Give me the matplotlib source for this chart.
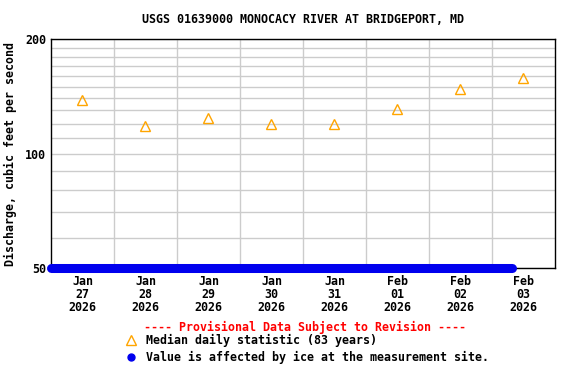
import numpy as np
import pandas as pd
import matplotlib
matplotlib.use("Agg")
import matplotlib.pyplot as plt
import matplotlib.dates as mdates
from matplotlib.ticker import FixedLocator, NullFormatter

# Data
median_days = pd.to_datetime(["2026-01-27 12:00", "2026-01-28 12:00", "2026-01-29 12:00",
                              "2026-01-30 12:00", "2026-01-31 12:00", "2026-02-01 12:00",
                              "2026-02-02 12:00", "2026-02-03 12:00"])
median_values = [138, 118, 124, 120, 120, 131, 148, 158]

# Ice-affected period (shown along the bottom of the plot)
ice_times = pd.to_datetime(["2026-01-27 00:00", "2026-02-03 07:30"])
ice_values = [50, 50]

tick_labels = ["Jan\n27\n2026", "Jan\n28\n2026", "Jan\n29\n2026", "Jan\n30\n2026",
               "Jan\n31\n2026", "Feb\n01\n2026", "Feb\n02\n2026", "Feb\n03\n2026"]
y_major = [50, 100, 200]
y_minor = [60, 70, 80, 90, 110, 120, 130, 140, 150, 160, 170, 180, 190]

mono = "DejaVu Sans Mono"
fs = 8.4

fig = plt.figure(figsize=(5.76, 3.84), dpi=100)
ax = fig.add_axes([0.0885, 0.302, 0.875, 0.596])

ax.set_yscale("log")
ax.set_ylim(50, 200)
ax.set_xlim(pd.Timestamp("2026-01-27"), pd.Timestamp("2026-02-04"))

# grid
ax.yaxis.set_major_locator(FixedLocator(y_major))
ax.yaxis.set_minor_locator(FixedLocator(y_minor))
ax.yaxis.set_minor_formatter(NullFormatter())
ax.set_yticklabels([str(v) for v in y_major])
midnights = pd.date_range("2026-01-28", "2026-02-03", freq="D")
for d in midnights:
    ax.axvline(d, color="#cccccc", lw=1, zorder=0)
ax.grid(True, axis="y", which="both", color="#cccccc", lw=1, zorder=0)

ax.set_xticks(median_days)
ax.set_xticklabels(tick_labels)
ax.tick_params(axis="both", which="both", length=0)
ax.tick_params(axis="x", pad=5)
for lab in ax.get_xticklabels() + ax.get_yticklabels():
    lab.set_fontfamily(mono)
    lab.set_fontweight("bold")
    lab.set_fontsize(fs)
for lab in ax.get_xticklabels():
    lab.set_linespacing(1.0)

for s in ax.spines.values():
    s.set_color("black")
    s.set_linewidth(1)

# series
ax.plot(ice_times, ice_values, color="#0000ee", lw=6.5, solid_capstyle="round",
        clip_on=False, zorder=3)
ax.plot(median_days, median_values, ls="none", marker="^", ms=7,
        mfc="none", mec="#ffa500", mew=1, zorder=4)

ax.set_title("USGS 01639000 MONOCACY RIVER AT BRIDGEPORT, MD", fontfamily=mono,
             fontweight="bold", fontsize=fs, pad=12)
ax.set_ylabel("Discharge, cubic feet per second", fontfamily=mono,
              fontweight="bold", fontsize=fs, labelpad=6)

# legend area
fig.text(305 / 576, 1 - 327 / 384, "---- Provisional Data Subject to Revision ----",
         color="red", fontfamily=mono, fontweight="bold", fontsize=fs,
         ha="center", va="center")
fig.lines.append(plt.Line2D([131 / 576], [1 - 340 / 384], transform=fig.transFigure,
                            marker="^", ms=7, mfc="none", mec="#ffa500", mew=1, ls="none"))
fig.text(146 / 576, 1 - 340 / 384, "Median daily statistic (83 years)",
         fontfamily=mono, fontweight="bold", fontsize=fs, va="center")
fig.lines.append(plt.Line2D([131 / 576], [1 - 357 / 384], transform=fig.transFigure,
                            marker="o", ms=5, mfc="#0000ee", mec="#0000ee", ls="none"))
fig.text(146 / 576, 1 - 357 / 384, "Value is affected by ice at the measurement site.",
         fontfamily=mono, fontweight="bold", fontsize=fs, va="center")

fig.savefig("out.png", dpi=100)
